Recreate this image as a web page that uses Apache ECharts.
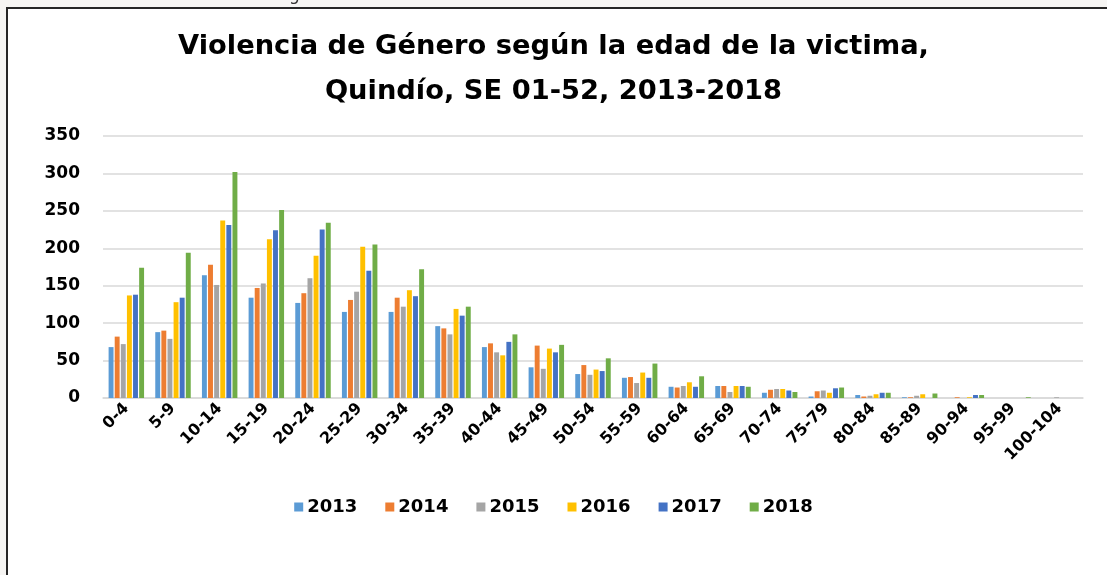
<!DOCTYPE html>
<html>
<head>
<meta charset="utf-8">
<script src="https://cdn.jsdelivr.net/npm/echarts@6/dist/echarts.min.js"></script>
<style>
  html, body { margin: 0; padding: 0; background: #f6f5f3; }
  #chart { width: 1107px; height: 575px; }
</style>
</head>
<body>
<div id="chart"></div>
<script>
// grupos de edad
const categories = ['0-4', '5-9', '10-14', '15-19', '20-24', '25-29', '30-34', '35-39', '40-44', '45-49',
  '50-54', '55-59', '60-64', '65-69', '70-74', '75-79', '80-84', '85-89', '90-94', '95-99', '100-104']
const years = ['2013', '2014', '2015', '2016', '2017', '2018']
const d2013 = [68, 88, 164, 134, 127, 115, 115, 96, 68, 41, 32, 27, 15, 16, 7, 2, 4, 1, 0, 0, 0]
const d2014 = [82, 90, 178, 147, 140, 131, 134, 93, 73, 70, 44, 28, 14, 16, 11, 9, 2, 1, 1, 0, 0]
const d2015 = [72, 79, 151, 153, 160, 142, 122, 85, 61, 39, 31, 20, 16, 8, 12, 10, 3, 3, 0, 0, 1]
const d2016 = [137, 128, 237, 212, 190, 202, 144, 119, 57, 66, 38, 34, 21, 16, 12, 7, 5, 5, 1, 0, 0]
const d2017 = [138, 134, 231, 224, 225, 170, 136, 110, 75, 61, 36, 27, 15, 16, 10, 13, 7, 0, 4, 0, 0]
const d2018 = [174, 194, 302, 251, 234, 205, 172, 122, 85, 71, 53, 46, 29, 15, 8, 14, 7, 6, 4, 1, 0]
const yTicks = [0, 50, 100, 150, 200, 250, 300, 350]

const colors = ['#5b9bd5', '#ed7d31', '#a5a5a5', '#ffc000', '#4472c4', '#70ad47']
const values = [d2013, d2014, d2015, d2016, d2017, d2018]
const font = 'DejaVu Sans'

let myChart = echarts.init(document.getElementById('chart'))
myChart.setOption({
  animation: false,
  color: colors,
  graphic: [
    {
      type: 'rect',
      z: -10,
      shape: { x: 7, y: 8, width: 1120, height: 600 },
      style: { fill: '#fff', stroke: '#262626', lineWidth: 2 }
    },
    {
      type: 'text',
      z: -10,
      left: 289,
      top: -13,
      style: { text: 'g', font: '17px DejaVu Sans', fill: '#333' }
    }
  ],
  title: {
    text: 'Violencia de Género según la edad de la victima,\nQuindío, SE 01-52, 2013-2018',
    left: 'center',
    top: 19,
    textStyle: {
      fontFamily: font,
      fontWeight: 'bold',
      fontSize: 27.3,
      lineHeight: 45,
      color: '#000'
    }
  },
  legend: {
    data: years,
    top: 493,
    left: 'center',
    itemWidth: 9,
    itemHeight: 9,
    itemGap: 28,
    icon: 'rect',
    textStyle: {
      fontFamily: font,
      fontWeight: 'bold',
      fontSize: 18,
      color: '#000',
      padding: [0, 0, 0, -1]
    }
  },
  grid: {
    left: 103,
    right: 24,
    top: 136,
    bottom: 177,
    containLabel: false
  },
  xAxis: [{
    type: 'category',
    data: categories,
    axisTick: { show: false },
    axisLine: { lineStyle: { color: '#d9d9d9', width: 1.5 } },
    axisLabel: {
      interval: 0,
      rotate: 45,
      margin: 8,
      color: '#000',
      fontFamily: font,
      fontWeight: 'bold',
      fontSize: 16
    }
  }],
  yAxis: [{
    type: 'value',
    min: yTicks[0],
    max: yTicks[yTicks.length - 1],
    interval: 50,
    axisTick: { show: false },
    axisLine: { show: false },
    splitLine: { lineStyle: { color: '#d9d9d9', width: 1.5 } },
    axisLabel: {
      margin: 23,
      color: '#000',
      fontFamily: font,
      fontWeight: 'bold',
      fontSize: 17
    }
  }],
  series: years.map((y, i) => ({
    name: y,
    type: 'bar',
    data: values[i],
    barGap: '24%',
    barCategoryGap: '24%',
    itemStyle: { color: colors[i] }
  }))
})
</script>
</body>
</html>
